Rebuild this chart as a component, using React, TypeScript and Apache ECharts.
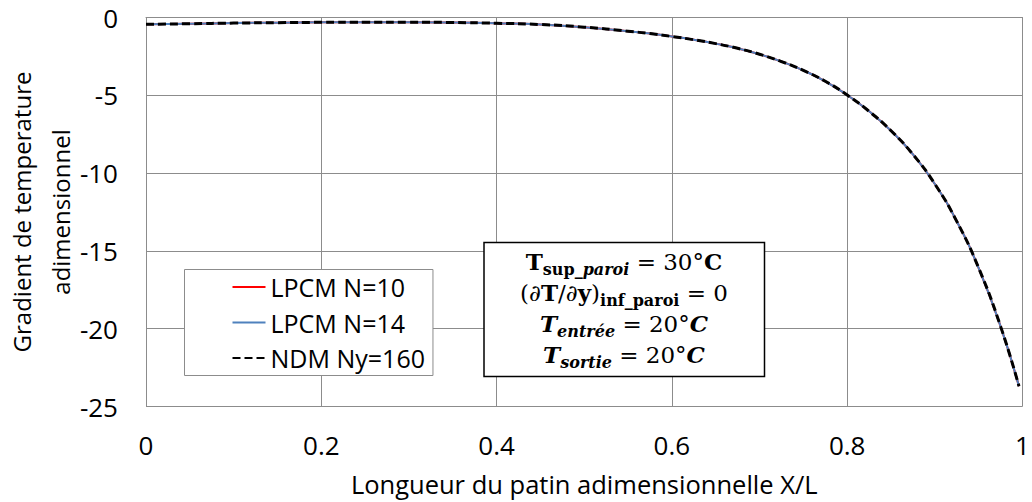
import React, { useEffect, useRef } from "react";
import * as echarts from "echarts";

const xPos = [0, 0.05, 0.1, 0.15, 0.2, 0.25, 0.3, 0.35, 0.4, 0.45, 0.5, 0.55, 0.575, 0.6, 0.625, 0.65, 0.675, 0.7, 0.725, 0.75, 0.775, 0.8, 0.825, 0.85, 0.875, 0.9, 0.925, 0.95, 0.975, 0.996];
const lpcm10 = [-0.44, -0.4, -0.36, -0.33, -0.31, -0.3, -0.3, -0.32, -0.37, -0.45, -0.62, -0.88, -1.03, -1.22, -1.43, -1.68, -1.98, -2.36, -2.83, -3.4, -4.1, -4.98, -6.03, -7.28, -8.8, -10.7, -13.1, -16.1, -19.85, -23.7];
const lpcm14 = [-0.44, -0.4, -0.36, -0.33, -0.31, -0.3, -0.3, -0.32, -0.37, -0.45, -0.62, -0.88, -1.03, -1.22, -1.43, -1.68, -1.98, -2.36, -2.83, -3.4, -4.1, -4.98, -6.03, -7.28, -8.8, -10.7, -13.1, -16.1, -19.85, -23.7];
const ndm160 = [-0.44, -0.4, -0.36, -0.33, -0.31, -0.3, -0.3, -0.32, -0.37, -0.45, -0.62, -0.88, -1.03, -1.22, -1.43, -1.68, -1.98, -2.36, -2.83, -3.4, -4.1, -4.98, -6.03, -7.28, -8.8, -10.7, -13.1, -16.1, -19.85, -23.7];

const seriesNames = ["LPCM N=10", "LPCM N=14", "NDM Ny=160"];
const xAxisName = "Longueur du patin adimensionnelle X/L";
const yAxisName = "Gradient de temperature\nadimensionnel";

const pairs = (ys: number[]) => xPos.map((x, i) => [x, ys[i]]);

export default function App() {
  const ref = useRef<HTMLDivElement>(null);
  useEffect(() => {
    if (!ref.current) return;
    const chart = echarts.init(ref.current, undefined, { renderer: "svg" });
    const font = "'Open Sans', sans-serif";
    const math = "'DejaVu Serif', serif";
    const gridColor = "#8c8c8c";
    const fs = 23;
    const ss = 16;
    const lh = 31;
    const rich: any = {
      b: { fontFamily: math, fontSize: fs, fontWeight: "bold", lineHeight: lh, verticalAlign: "middle", color: "#000" },
      bi: { fontFamily: math, fontSize: fs, fontWeight: "bold", fontStyle: "italic", lineHeight: lh, verticalAlign: "middle", color: "#000" },
      n: { fontFamily: math, fontSize: fs, lineHeight: lh, verticalAlign: "middle", color: "#000" },
      sb: { fontFamily: math, fontSize: ss, fontWeight: "bold", lineHeight: lh, verticalAlign: "bottom", color: "#000" },
      sbi: { fontFamily: math, fontSize: ss, fontWeight: "bold", fontStyle: "italic", lineHeight: lh, verticalAlign: "bottom", color: "#000" },
    };
    chart.setOption({
      animation: false,
      backgroundColor: "#fff",
      grid: { left: 146, right: 9.5, top: 17.5, bottom: 95.5, containLabel: false, outerBoundsMode: "none" },
      xAxis: {
        type: "value",
        min: 0,
        max: 1,
        interval: 0.2,
        name: xAxisName,
        nameLocation: "middle",
        nameGap: 64,
        nameMoveOverlap: false,
        nameTextStyle: { fontFamily: font, fontSize: 25.5, color: "#000" },
        axisLine: { show: true, lineStyle: { color: gridColor, width: 1 } },
        axisTick: { show: false },
        axisLabel: { fontFamily: font, fontSize: 26, color: "#000", margin: 25 },
        splitLine: { show: true, lineStyle: { color: gridColor, width: 1 } },
      },
      yAxis: {
        type: "value",
        min: -25,
        max: 0,
        interval: 5,
        name: yAxisName,
        nameLocation: "middle",
        nameGap: 66,
        nameMoveOverlap: false,
        nameTextStyle: { fontFamily: font, fontSize: 24, color: "#000", lineHeight: 39 },
        axisLine: { show: true, lineStyle: { color: gridColor, width: 1 } },
        axisTick: { show: false },
        axisLabel: { fontFamily: font, fontSize: 26, color: "#000", margin: 28 },
        splitLine: { show: true, lineStyle: { color: gridColor, width: 1 } },
      },
      legend: {
        orient: "vertical",
        left: 184.5,
        top: 269.5,
        padding: [5, 8, 5, 47],
        itemGap: 10.5,
        itemWidth: 33,
        itemHeight: 14,
        borderColor: "#8c8c8c",
        borderWidth: 1,
        backgroundColor: "#fff",
        itemStyle: { opacity: 0 },
        textStyle: { fontFamily: font, fontSize: 25, color: "#000" },
        data: seriesNames,
      },
      series: [
        { name: seriesNames[0], type: "line", data: pairs(lpcm10), showSymbol: false, symbol: "none", smooth: true, lineStyle: { color: "#ff0000", width: 2 }, itemStyle: { color: "#ff0000" } },
        { name: seriesNames[1], type: "line", data: pairs(lpcm14), showSymbol: false, symbol: "none", smooth: true, lineStyle: { color: "#4f81bd", width: 2 }, itemStyle: { color: "#4f81bd" } },
        { name: seriesNames[2], type: "line", data: pairs(ndm160), showSymbol: false, symbol: "none", smooth: true, lineStyle: { color: "#000", width: 3, type: [8, 4] }, itemStyle: { color: "#000" } },
      ],
      graphic: [
        {
          type: "rect",
          shape: { x: 484, y: 242.5, width: 280.5, height: 134 },
          style: { fill: "#fff", stroke: "#000", lineWidth: 1.5 },
          z: 100,
        },
        {
          type: "text",
          x: 624,
          y: 246,
          z: 101,
          style: {
            text: [
              "{b|T}{sb|sup_}{sbi|paroi}{n| = 30°}{b|C}",
              "{n|(∂}{b|T}{n|/∂}{b|y}{n|)}{sb|inf_paroi}{n| = 0}",
              "{bi|T}{sbi|entrée}{n| = 20°}{bi|C}",
              "{bi|T}{sbi|sortie}{n| = 20°}{bi|C}",
            ].join("\n"),
            rich,
            align: "center",
            verticalAlign: "top",
          },
        },
      ],
    });
    return () => chart.dispose();
  }, []);
  return <div ref={ref} style={{ position: "fixed", left: 0, top: 0, width: 1032, height: 502 }} />;
}
